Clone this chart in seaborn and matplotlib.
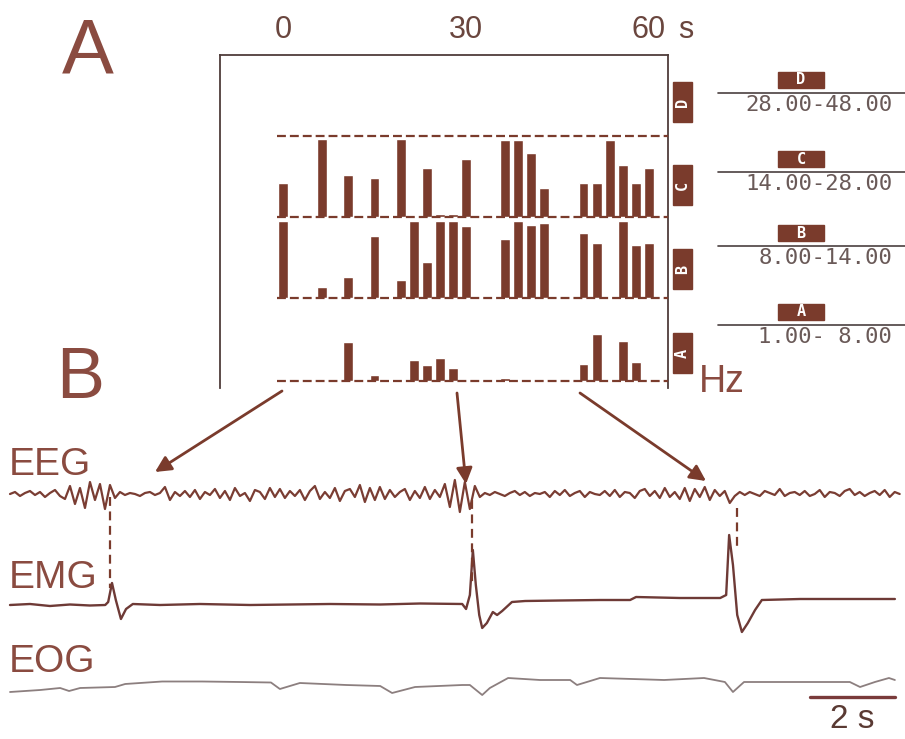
import numpy as np
import matplotlib
matplotlib.use("Agg")
import matplotlib.pyplot as plt
from matplotlib.patches import Rectangle
import seaborn as sns

sns.set_style("white")
plt.rcParams["font.family"] = ["Liberation Sans", "DejaVu Sans"]

# ---- data: band power per 2 s epoch (29 epochs over 60 s) ----
epochs = list(range(29))
band_names = ["D", "C", "B", "A"]
band_ranges = ["28.00-48.00", "14.00-28.00", "8.00-14.00", "1.00- 8.00"]
power_D = [0] * 29
power_C = [34, 0, 0, 78, 0, 42, 0, 39, 0, 78, 0, 49, 3, 3, 58, 0, 0, 77, 77, 64,
           29, 0, 0, 34, 34, 77, 52, 34, 49]
power_B = [77, 0, 0, 11, 0, 21, 0, 62, 0, 18, 77, 36, 77, 77, 72, 0, 0, 59, 77, 73,
           75, 0, 0, 65, 55, 0, 77, 53, 55]
power_A = [0, 0, 0, 0, 0, 39, 0, 6, 0, 0, 21, 16, 23, 13, 0, 0, 0, 3, 0, 0,
           0, 0, 0, 17, 47, 0, 40, 19, 0]
band_power = {"D": power_D, "C": power_C, "B": power_B, "A": power_A}
time_ticks = [0, 30, 60]

# ---- data: polygraph traces (seconds, deflection) ----
eeg_dt = 0.1176
eeg = [0, 2, -2, 1, 3, -1, 2, -3, 1, 4, -2,
       -5, 8, -10, 6, -14, 12, -6, 10, -15, 9, -4,
       2, -1, 1, 0, -2, 1, 2, -1, 1,
       7, -6, 2, -2, 3,
       -3, 4, -5, 2, -1, 5, -4, 3, -6, 6, -2, 1, -7, 4, 2, -5, 6, -3, 5, -4, 3, -2,
       4, -6, 3, 8, -5, 2, -4, 6, -7, 3, 5, -3, 9, -8, 6, -6, 7, -5, 4, -3, 2, 5,
       -6, 3, -4, 7, -5, 4, -3,
       10, -13, 14, -18, 12, -15, 8,
       -3, 1, -1, 2, 0, -2, 1, 3, -1, 2, -2, 1, 0, 2, -3, 3, -1, 4, -2, 1, 3, -3,
       2, 0, -1,
       3, -2, 4, -3, 2, 1, -4, 3, 5, -2, 3, -4, 6, -3, 2,
       -5, 6, -7, 5, -3, 7, -6, 4, -2, 3,
       -9, -2, 2,
       -1, 2, 0, -2, 3, 1, -1, 5, -2, 1, 2, -1, 3, -2, 0, 4, -3, 2, 1, -2, 3, 5,
       -1, 2, -2, 1, 3, -1, 4, -3, 2, 0]

emg_t = [0, 0.47, 0.94, 1.41, 1.88, 2.24, 2.31, 2.40, 2.49, 2.61, 2.73, 2.89, 3.53,
         4.47, 5.65, 6.59, 7.53, 8.71, 9.65, 10.64, 10.73, 10.82, 10.89, 10.96,
         11.04, 11.11, 11.22, 11.36, 11.46, 11.58, 11.81, 12.12, 12.94, 13.88,
         14.59, 14.73, 15.76, 16.71, 16.85, 16.92, 17.01, 17.11, 17.22, 17.36,
         17.53, 17.69, 18.59, 19.76, 20.82]
emg = [0, 1, -1, 0.5, -0.5, 0, 3, 22, 5, -14, -4, 1, 0,
       1, 0, 0.5, 1, 0.5, 1.5, 1, -4, 10, 55, 20,
       -10, -23, -18, -7, -10, -6, 3, 4, 4.5, 5,
       5, 8, 7, 7, 10, 70, 40, -10, -27, -18,
       -5, 5, 6, 6, 6]

eog_t = [0, 0.71, 1.18, 1.39, 1.65, 2.47, 2.71, 3.58, 4.52, 5.41, 6.14, 6.35, 6.82,
         7.91, 8.71, 8.99, 9.53, 10.64, 10.82, 11.11, 11.29, 11.72, 12.47, 12.80,
         13.18, 13.34, 13.65, 13.88, 15.39, 16.33, 16.82, 17.01, 17.27, 18.78,
         19.76, 20.00, 20.35, 20.68, 20.82]
eog = [-7, -5, -3, -6, -3, -2, 1, 3.5, 3.5, 3, 2.5, -4, 2,
       0, -1, -8, -2, 0, 0, -10, -3, 7, 5, 5,
       5, 0, 4, 7, 5, 7, 3, -7, 3, 3,
       3, -2, 3, 7, 5]

brown = "#7a3b2c"
text_brown = "#8a4b40"
dark = "#4f3d3a"

W, H = 905, 739
fig = plt.figure(figsize=(W / 100, H / 100), dpi=100)


def px_axes(l, t, r, b):
    ax = fig.add_axes([l / W, 1 - b / H, (r - l) / W, (b - t) / H])
    ax.patch.set_visible(False)
    return ax


# overlay in pixel coordinates for annotations
ov = px_axes(0, 0, W, H)
ov.set_xlim(0, W)
ov.set_ylim(H, 0)
ov.axis("off")

# ---- panel A frame with time axis ----
fr = px_axes(220, 55, 668, 388)
fr.set_xlim(-63 / 6.1, 385 / 6.1)
fr.set_ylim(388, 55)
fr.xaxis.tick_top()
fr.set_xticks(time_ticks)
fr.set_xticklabels([str(v) for v in time_ticks])
fr.tick_params(axis="x", length=0, pad=7, labelsize=22, labelcolor="#6a463e")
fr.set_yticks([237, 367])
fr.set_yticklabels([])
fr.tick_params(axis="y", length=3, color=dark)
for side in ["left", "top", "right"]:
    fr.spines[side].set_color(dark)
    fr.spines[side].set_linewidth(1.3)
fr.spines["bottom"].set_visible(False)
ov.text(686, 30, "s", ha="center", va="center", fontsize=22, color="#6a463e")

# ---- band rows ----
baselines = {"D": 136, "C": 217, "B": 298, "A": 381}
for band in band_names:
    base = baselines[band]
    ax = px_axes(276.5, base - 81, 668, base)
    sns.barplot(x=epochs, y=band_power[band], color=brown, saturation=1,
                width=0.75, ax=ax)
    ax.axhline(0, color=brown, lw=1.6, ls=(0, (4, 1.8)), clip_on=False)
    ax.set_xlim(-0.5, 29.46)
    ax.set_ylim(0, 81)
    ax.axis("off")

# rotated band tags on the right edge
tag_centers = {"D": 102, "C": 185, "B": 269, "A": 353}
for band in band_names:
    yc = tag_centers[band]
    ov.add_patch(Rectangle((673, yc - 20), 19, 40, color=brown))
    ov.text(682.5, yc, band, rotation=90, ha="center", va="center",
            color="white", fontsize=11, fontweight="bold", family="DejaVu Sans Mono")
ov.text(722, 382, "Hz", ha="center", va="center", fontsize=27, color=text_brown)

# band legend
leg_box = {"D": 80, "C": 159, "B": 233, "A": 312}
for band, rng in zip(band_names, band_ranges):
    yb = leg_box[band]
    ov.add_patch(Rectangle((778, yb - 8), 46, 16, color=brown))
    ov.text(801, yb, band, ha="center", va="center", color="white",
            fontsize=11, fontweight="bold", family="DejaVu Sans Mono")
    ov.plot([718, 905], [yb + 13, yb + 13], color="#4a4040", lw=1.2)
    ov.text(892, yb + 25, rng, ha="right", va="center", fontsize=16,
            color="#6a5a58", family="DejaVu Sans Mono")

# panel letters
ov.text(88, 53, "A", ha="center", va="center", fontsize=56, color=text_brown)
ov.text(80, 380, "B", ha="center", va="center", fontsize=52, color=text_brown)

# arrows from histogram to traces
for (x0, y0), (x1, y1) in [((282, 391), (155, 472)), ((457, 393), (466, 484)),
                           ((580, 393), (706, 481))]:
    ov.annotate("", xy=(x1, y1), xytext=(x0, y0),
                arrowprops=dict(arrowstyle="-|>", color=brown, lw=2,
                                mutation_scale=24, shrinkA=0, shrinkB=0))

# ---- panel B traces ----
tr = px_axes(10, 430, 900, 739)
tr.set_xlim(0, 20.94)
tr.set_ylim(0, 309)
tr.axis("off")
eeg_t = np.arange(len(eeg)) * eeg_dt
sns.lineplot(x=eeg_t, y=np.array(eeg) + 245, ax=tr, color="#7a3d33", lw=1.6,
             estimator=None, sort=False)
sns.lineplot(x=emg_t, y=np.array(emg) + 134, ax=tr, color="#6e3a36", lw=1.7,
             estimator=None, sort=False)
sns.lineplot(x=eog_t, y=np.array(eog) + 54, ax=tr, color="#8c7f7f", lw=1.3,
             estimator=None, sort=False)
for line in tr.lines:
    line.set_clip_on(False)

# dashed markers linking EEG to EMG events
for xs, y0, y1 in [(2.35, 242, 151), (10.87, 239, 154), (17.11, 231, 191)]:
    tr.plot([xs, xs], [y0, y1], color=brown, lw=1.6, ls=(0, (4, 2.5)), clip_on=False)

# scale bar
tr.plot([18.82, 20.82], [42, 42], color="#7a3b3b", lw=2.4, clip_on=False)
ov.text(852, 720, "2 s", ha="center", va="center", fontsize=24, color="#5a3a33")

for name, y in [("EEG", 465), ("EMG", 578), ("EOG", 662)]:
    ov.text(9, y, name, ha="left", va="center", fontsize=28, color=text_brown)

fig.savefig("out.png", dpi=100)
